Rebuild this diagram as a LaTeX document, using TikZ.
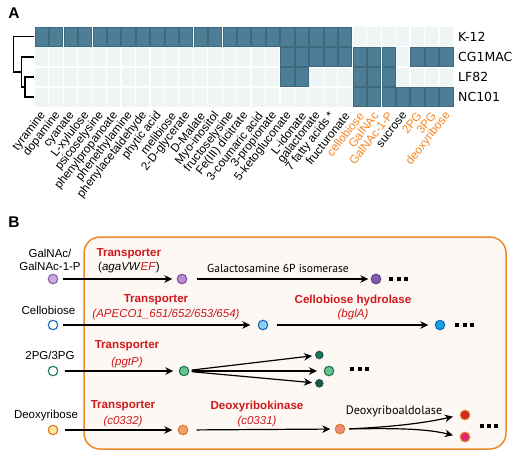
\documentclass[tikz,border=0pt]{standalone}
\usepackage{fontspec}
\setmainfont{Liberation Sans}
\newfontfamily\dejavu{DejaVu Sans}
\newfontfamily\ptsans{PT Sans}
\usetikzlibrary{arrows.meta}
\definecolor{tilec}{RGB}{78,126,150}
\definecolor{tileedge}{RGB}{62,106,128}
\definecolor{emptyc}{RGB}{238,245,244}
\definecolor{labor}{RGB}{247,134,31}
\definecolor{enzred}{RGB}{205,25,30}
\definecolor{boxor}{RGB}{240,138,40}
\definecolor{boxfill}{RGB}{253,248,243}
\definecolor{pA}{RGB}{205,172,220}\definecolor{pAe}{RGB}{140,95,170}
\definecolor{pB}{RGB}{186,142,208}\definecolor{pBe}{RGB}{130,75,165}
\definecolor{pC}{RGB}{128,96,172}\definecolor{pCe}{RGB}{90,60,140}
\definecolor{bE}{RGB}{25,105,195}
\definecolor{bB}{RGB}{145,208,240}
\definecolor{bC}{RGB}{26,160,225}
\definecolor{gE}{RGB}{25,120,85}
\definecolor{gB}{RGB}{108,192,142}
\definecolor{gS}{RGB}{26,122,90}
\definecolor{gT}{RGB}{32,84,78}
\definecolor{oE}{RGB}{224,123,32}
\definecolor{oA}{RGB}{253,230,160}
\definecolor{oB}{RGB}{240,160,112}
\definecolor{oC}{RGB}{236,138,128}
\definecolor{oR}{RGB}{204,42,42}
\definecolor{oP}{RGB}{232,32,122}
\newcommand\hmtile[3]{\path[#3] ({34.3+14.45*#2+0.6},{26.7+20.1*#1+0.6}) rectangle ++(13.25,18.9);}
\newcommand\myellip{\rule{4pt}{4pt}\hspace{3.3pt}\rule{4pt}{4pt}\hspace{3.3pt}\rule{4pt}{4pt}}
\tikzset{
  emptytile/.style={fill=emptyc},
  darktile/.style={fill=tilec, draw=tileedge, line width=0.4pt},
  rowlab/.style={font=\dejavu\fontsize{12.5}{14}\selectfont, inner sep=0, anchor=west},
  collab/.style={font=\fontsize{11.8}{13}\selectfont, inner sep=0},
  dendro/.style={line width=1.3pt},
  panlab/.style={font=\bfseries\fontsize{15.5}{17}\selectfont, inner sep=0},
  srclab/.style={font=\fontsize{11.5}{13}\selectfont, inner sep=0, align=center},
  enz/.style={font=\bfseries\fontsize{11.6}{13}\selectfont, text=enzred, inner sep=0},
  gene/.style={font=\itshape\fontsize{11.5}{13}\selectfont, text=enzred, inner sep=0},
  plainlab/.style={font=\ptsans\fontsize{11.6}{13}\selectfont, inner sep=0},
  mdot/.style={circle, draw, line width=1.1pt, minimum size=9.5pt, inner sep=0},
  sdot/.style={circle, draw, line width=1pt, minimum size=7.5pt, inner sep=0},
  ellip/.style={inner sep=0},
  arr/.style={line width=1.2pt, -{Stealth[length=8pt,width=7.5pt,inset=2.5pt]}},
}
\begin{document}
\begin{tikzpicture}[x=1pt,y=-1pt]
\useasboundingbox (0,0) rectangle (517,455);
\fill[white] (0,0) rectangle (517,455);

% ---------- panel labels
\node[panlab] (pa) at (14,13) {A};
\node[panlab] (pb) at (14,222.5) {B};

% ---------- heatmap
\foreach \r in {0,...,3}{\foreach \c in {0,...,28}{\hmtile{\r}{\c}{emptytile}}}
\foreach \c in {0,...,21}{\hmtile{0}{\c}{darktile}}
\foreach \c in {17,18,19,20,21,22,23,24,26,27,28}{\hmtile{1}{\c}{darktile}}
\foreach \c in {17,18,22,23,24}{\hmtile{2}{\c}{darktile}}
\foreach \c in {22,...,28}{\hmtile{3}{\c}{darktile}}

\node[rowlab] (rK) at (458,36.8) {K-12};
\node[rowlab] (rC) at (458,56.9) {CG1MAC};
\node[rowlab] (rL) at (458,77.0) {LF82};
\node[rowlab] (rN) at (458,97.1) {NC101};

% dendrogram
\draw[dendro] (34,36.8) -- (13.3,36.8) -- (13.3,72) -- (21.7,72);
\draw[dendro] (34,56.9) -- (21.7,56.9) -- (21.7,87) -- (25,87);
\draw[dendro] (34,77.0) -- (25,77.0) -- (25,97.1) -- (34,97.1);

% column labels
\foreach \t/\col [count=\i from 0] in {tyramine/black,dopamine/black,cyanate/black,L-xylulose/black,psicoselysine/black,phenylpropanoate/black,phenethylamine/black,phenylacetaldehyde/black,phytic acid/black,melibiose/black,2-D-glycerate/black,D-Malate/black,Myo-inositol/black,fructoselysine/black,Fe(III) dicitrate/black,3-coumaric acid/black,3-propionate/black,5-ketogluconate/black,L-idonate/black,galactonate/black,7 fatty acids */black,fructuronate/black,cellobiose/labor,GalNAc/labor,GalNAc-1-P/labor,sucrose/black,2PG/labor,3PG/labor,deoxyribose/labor}{
  \node[collab, text=\col, rotate=52, anchor=east] (cl\i) at ({34.3+14.45*\i+7.2+2},113.5) {\t};
}

% ---------- panel B box
\draw[boxor, line width=1.5pt, fill=boxfill, rounded corners=16pt] (84,237) rectangle (506,449);

% row 1
\node[srclab] (s1) at (50,259.5) {GalNAc/\\GalNAc-1-P};
\node[mdot, fill=pA, draw=pAe] (c11) at (53,279) {};
\node[mdot, fill=pB, draw=pBe] (c12) at (182,279) {};
\node[mdot, fill=pC, draw=pCe] (c13) at (376,279) {};
\node[ellip] (e1) at (398.7,279) {\myellip};
\node[enz] (t1) at (128.8,254) {Transporter};
\node[srclab] (g1) at (129,268) {(\textit{agaVW}\textcolor{enzred}{\textit{EF}})};
\node[plainlab] (i1) at (278,268.5) {Galactosamine 6P isomerase};
\draw[arr, shorten <=4.4pt, shorten >=4.4pt] (c11) -- (c12);
\draw[arr, shorten <=9.4pt, shorten >=2.4pt] (c12) -- (c13);

% row 2
\node[srclab] (s2) at (48.5,310) {Cellobiose};
\node[mdot, fill=white, draw=bE] (c21) at (53,325) {};
\node[mdot, fill=bB, draw=bE] (c22) at (263,325) {};
\node[mdot, fill=bC, draw=bE] (c23) at (440,325) {};
\node[ellip] (e2) at (464.5,325) {\myellip};
\node[enz] (t2) at (156,300) {Transporter};
\node[gene] (g2) at (166,315) {(APECO1\_651/652/653/654)};
\node[enz] (h2) at (353,300) {Cellobiose hydrolase};
\node[gene] (k2) at (353,315) {(bglA)};
\draw[arr, shorten <=4.4pt, shorten >=7.4pt] (c21) -- (c22);
\draw[arr, shorten <=8.4pt, shorten >=6.4pt] (c22) -- (c23);

% row 3
\node[srclab] (s3) at (50,355) {2PG/3PG};
\node[mdot, fill=white, draw=gE] (c31) at (53,371) {};
\node[mdot, fill=gB, draw=gE] (c32) at (184,371) {};
\node[sdot, fill=gS, draw=gT] (c33) at (319.3,355) {};
\node[mdot, fill=gB, draw=gE] (c34) at (329,371) {};
\node[sdot, fill=gT, draw=gT] (c35) at (319.3,383.3) {};
\node[ellip] (e3) at (359.7,369) {\myellip};
\node[enz] (t3) at (127,346) {Transporter};
\node[gene] (g3) at (127,362.5) {(pgtP)};
\draw[arr, shorten <=6.4pt, shorten >=5.4pt] (c31) -- (c32);
\draw[arr, shorten <=2.4pt, shorten >=3.1pt] (c32) -- (c33);
\draw[arr, shorten <=2.4pt, shorten >=6.7pt] (c32) -- (c34);
\draw[arr, shorten <=2.4pt, shorten >=3.1pt] (c32) -- (c35);

% row 4
\node[srclab] (s4) at (46,416) {Deoxyribose};
\node[mdot, fill=oA, draw=oE] (c41) at (53,430) {};
\node[mdot, fill=oB, draw=oE] (c42) at (183,430) {};
\node[mdot, fill=oC, draw=oE] (c43) at (340,429) {};
\node[mdot, fill=oR, draw=oE] (c44) at (465,415) {};
\node[mdot, fill=oP, draw=oE] (c45) at (465,437) {};
\node[ellip] (e4) at (489,426) {\myellip};
\node[enz] (t4) at (123,406) {Transporter};
\node[gene] (g4) at (123,421.5) {(c0332)};
\node[enz] (k4) at (257,406) {Deoxyribokinase};
\node[gene] (q4) at (257,421.5) {(c0331)};
\node[plainlab, font=\ptsans\fontsize{12.2}{14}\selectfont] (a4) at (394,411) {Deoxyriboaldolase};
\draw[arr, shorten <=6.4pt, shorten >=5.4pt] (c41) -- (c42);
\draw[arr, shorten <=8.4pt, shorten >=4.4pt] (c42) -- (c43);
\draw[arr, shorten <=4pt, shorten >=7pt] (c43.east) .. controls (392,427) and (425,423) .. (c44.west);
\draw[arr, shorten <=4pt, shorten >=7pt] (c43.east) .. controls (400,428) and (428,429) .. (c45.west);
\end{tikzpicture}
\end{document}
